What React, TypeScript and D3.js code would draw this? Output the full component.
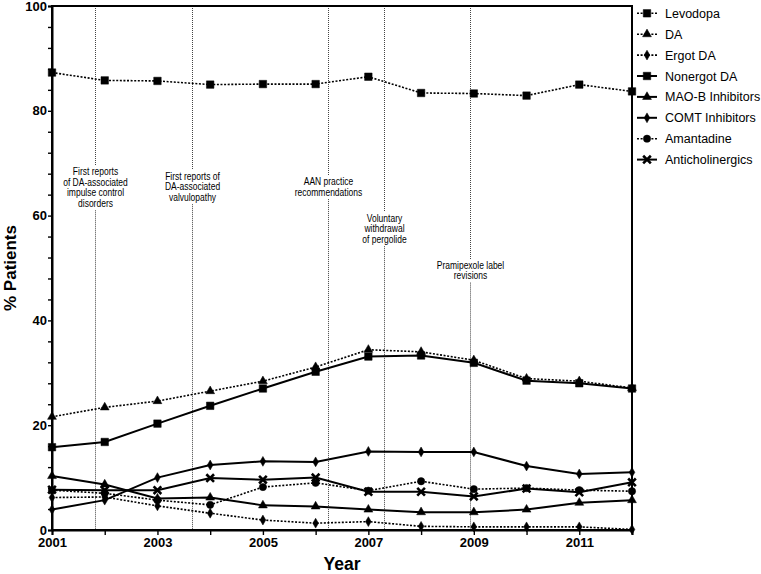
import React, { useEffect, useRef } from 'react';
import * as d3 from 'd3';

// values (% of patients)
const years = [2001, 2002, 2003, 2004, 2005, 2006, 2007, 2008, 2009, 2010, 2011, 2012];
const levodopa = [87.3, 85.8, 85.7, 85.0, 85.1, 85.1, 86.5, 83.4, 83.3, 82.9, 85.0, 83.7];
const da = [21.6, 23.4, 24.6, 26.5, 28.4, 31.1, 34.4, 34.0, 32.4, 28.9, 28.4, 27.1];
const ergotDa = [6.2, 6.3, 4.6, 3.2, 1.9, 1.3, 1.6, 0.7, 0.6, 0.6, 0.6, 0.1];
const nonergotDa = [15.8, 16.8, 20.3, 23.7, 27.0, 30.2, 33.1, 33.3, 31.9, 28.5, 28.0, 27.0];
const maoB = [10.3, 8.7, 6.0, 6.2, 4.7, 4.5, 3.9, 3.4, 3.4, 3.9, 5.2, 5.7];
const comt = [3.9, 5.7, 10.0, 12.4, 13.1, 13.0, 15.0, 14.9, 14.9, 12.2, 10.7, 11.0];
const amantadine = [7.6, 7.0, 5.7, 4.8, 8.2, 9.0, 7.5, 9.3, 7.8, 8.0, 7.6, 7.4];
const anticholinergics = [7.7, 7.6, 7.6, 9.9, 9.6, 10.0, 7.3, 7.3, 6.4, 7.9, 7.2, 9.1];

const seriesNames = ['Levodopa', 'DA', 'Ergot DA', 'Nonergot DA', 'MAO-B Inhibitors', 'COMT Inhibitors', 'Amantadine', 'Anticholinergics'];
const seriesValues = [levodopa, da, ergotDa, nonergotDa, maoB, comt, amantadine, anticholinergics];

// events marked on the chart
const eventYears = [2001.82, 2003.65, 2006.24, 2007.3, 2008.92];
const eventLabels = [
    ['First reports', 'of DA-associated', 'impulse control', 'disorders'],
    ['First reports of', 'DA-associated', 'valvulopathy'],
    ['AAN practice', 'recommendations'],
    ['Voluntary', 'withdrawal', 'of pergolide'],
    ['Pramipexole label', 'revisions'],
];

const yTicks = [0, 20, 40, 60, 80, 100];
const xTickLabels = [2001, 2003, 2005, 2007, 2009, 2011];

// styling per series: dotted?, marker
const dotted = [true, true, true, false, false, false, true, false];
const markers = [d3.symbolSquare, d3.symbolTriangle, d3.symbolDiamond, d3.symbolSquare, d3.symbolTriangle, d3.symbolDiamond, d3.symbolCircle, d3.symbolX];
const markerSizes = [56, 34, 28, 56, 34, 28, 42, 40];
// first text line y (px) of each event label
const eventTextTop = [171.5, 176, 181.5, 218, 265];

const App = () => {
    const ref = useRef<SVGSVGElement | null>(null);

    useEffect(() => {
        const svg = d3.select(ref.current);
        svg.selectAll('*').remove();

        const left = 52;
        const right = 632;
        const top = 6;
        const bottom = 530;

        const x = d3.scaleLinear().domain([2001, 2012]).range([left, right]);
        const y = d3.scaleLinear().domain([0, 100]).range([bottom, top]);

        const font = 'Liberation Sans, Arial, sans-serif';

        // event lines + labels
        eventYears.forEach((yr, i) => {
            const lines = eventLabels[i];
            const t0 = eventTextTop[i];
            const lh = 10.6;
            const gapTop = t0 - 6;
            const gapBottom = t0 + (lines.length - 1) * lh + 7;
            const ex = Math.round(x(yr)) + 0.5;
            const g = svg.append('g');
            [[top, gapTop], [gapBottom, bottom]].forEach(([a, b]) => {
                g.append('line')
                    .attr('x1', ex).attr('x2', ex)
                    .attr('y1', a).attr('y2', b)
                    .attr('stroke', '#444')
                    .attr('stroke-width', 1)
                    .attr('stroke-dasharray', '1,1');
            });
            lines.forEach((ln, j) => {
                g.append('text')
                    .attr('transform', `translate(${ex},${t0 + j * lh + 3.5}) scale(0.85,1)`)
                    .attr('text-anchor', 'middle')
                    .style('font-family', font)
                    .style('font-size', '10px')
                    .attr('fill', '#000')
                    .text(ln);
            });
        });

        // frame
        svg.append('rect')
            .attr('x', left).attr('y', top)
            .attr('width', right - left).attr('height', bottom - top)
            .attr('fill', 'none')
            .attr('stroke', '#000')
            .attr('stroke-width', 2);

        // y axis
        const yAxis = d3.axisLeft(y).tickValues(d3.range(0, 101, 4)).tickSize(4)
            .tickFormat((d) => (yTicks.includes(d as number) ? String(d) : ''));
        const yg = svg.append('g').attr('transform', `translate(${left},0)`).call(yAxis);
        yg.select('.domain').attr('stroke-width', 2);
        yg.selectAll('line').attr('stroke-width', 1.4);
        yg.selectAll('text')
            .attr('x', -5)
            .style('font-family', font)
            .style('font-size', '13px')
            .style('font-weight', 'bold')
            .attr('fill', '#000');

        // x axis
        const xAxis = d3.axisBottom(x).tickValues(years).tickSize(5)
            .tickFormat((d) => (xTickLabels.includes(d as number) ? String(d) : ''));
        const xg = svg.append('g').attr('transform', `translate(0,${bottom})`).call(xAxis);
        xg.select('.domain').attr('stroke-width', 2);
        xg.selectAll('line').attr('stroke-width', 1.4);
        xg.selectAll('text')
            .attr('y', 8)
            .style('font-family', font)
            .style('font-size', '13px')
            .style('font-weight', 'bold')
            .attr('fill', '#000');

        // axis titles
        svg.append('text')
            .attr('x', 342).attr('y', 570)
            .attr('text-anchor', 'middle')
            .style('font-family', font)
            .style('font-size', '17.5px')
            .style('font-weight', 'bold')
            .text('Year');
        svg.append('text')
            .attr('transform', `translate(16,${(top + bottom) / 2}) rotate(-90)`)
            .attr('text-anchor', 'middle')
            .style('font-family', font)
            .style('font-size', '17px')
            .style('font-weight', 'bold')
            .text('% Patients');

        // series
        const line = d3.line<number>()
            .x((_, i) => x(years[i]))
            .y((d) => y(d));

        seriesValues.forEach((vals, s) => {
            svg.append('path')
                .datum(vals)
                .attr('d', line)
                .attr('fill', 'none')
                .attr('stroke', '#000')
                .attr('stroke-width', dotted[s] ? 1.6 : 2)
                .attr('stroke-dasharray', dotted[s] ? '2,1.6' : null);
        });

        const sym = (s: number) => d3.symbol().type(markers[s]).size(markerSizes[s]);
        seriesValues.forEach((vals, s) => {
            const isX = markers[s] === d3.symbolX;
            svg.append('g').selectAll('path')
                .data(vals)
                .enter()
                .append('path')
                .attr('d', sym(s))
                .attr('transform', (d, i) => `translate(${x(years[i])},${y(d)})`)
                .attr('fill', isX ? 'none' : '#000')
                .attr('stroke', '#000')
                .attr('stroke-width', isX ? 2.6 : 0.5);
        });

        // legend
        const legend = svg.append('g').attr('transform', 'translate(637,13.3)');
        seriesNames.forEach((name, s) => {
            const gy = s * 20.9;
            const item = legend.append('g').attr('transform', `translate(0,${gy})`);
            item.append('line')
                .attr('x1', 0).attr('x2', 20)
                .attr('stroke', '#000')
                .attr('stroke-width', dotted[s] ? 1.6 : 2)
                .attr('stroke-dasharray', dotted[s] ? '2,1.6' : null);
            const isX = markers[s] === d3.symbolX;
            item.append('path')
                .attr('d', sym(s))
                .attr('transform', 'translate(10,0)')
                .attr('fill', isX ? 'none' : '#000')
                .attr('stroke', '#000')
                .attr('stroke-width', isX ? 2.6 : 0.5);
            item.append('text')
                .attr('x', 28).attr('y', 4.5)
                .style('font-family', font)
                .style('font-size', '12.5px')
                .text(name);
        });
    }, []);

    return (
        <svg
            ref={ref}
            width={761}
            height={574}
            style={{ position: 'absolute', left: 0, top: 0, background: '#fff' }}
        />
    );
};

export default App;
